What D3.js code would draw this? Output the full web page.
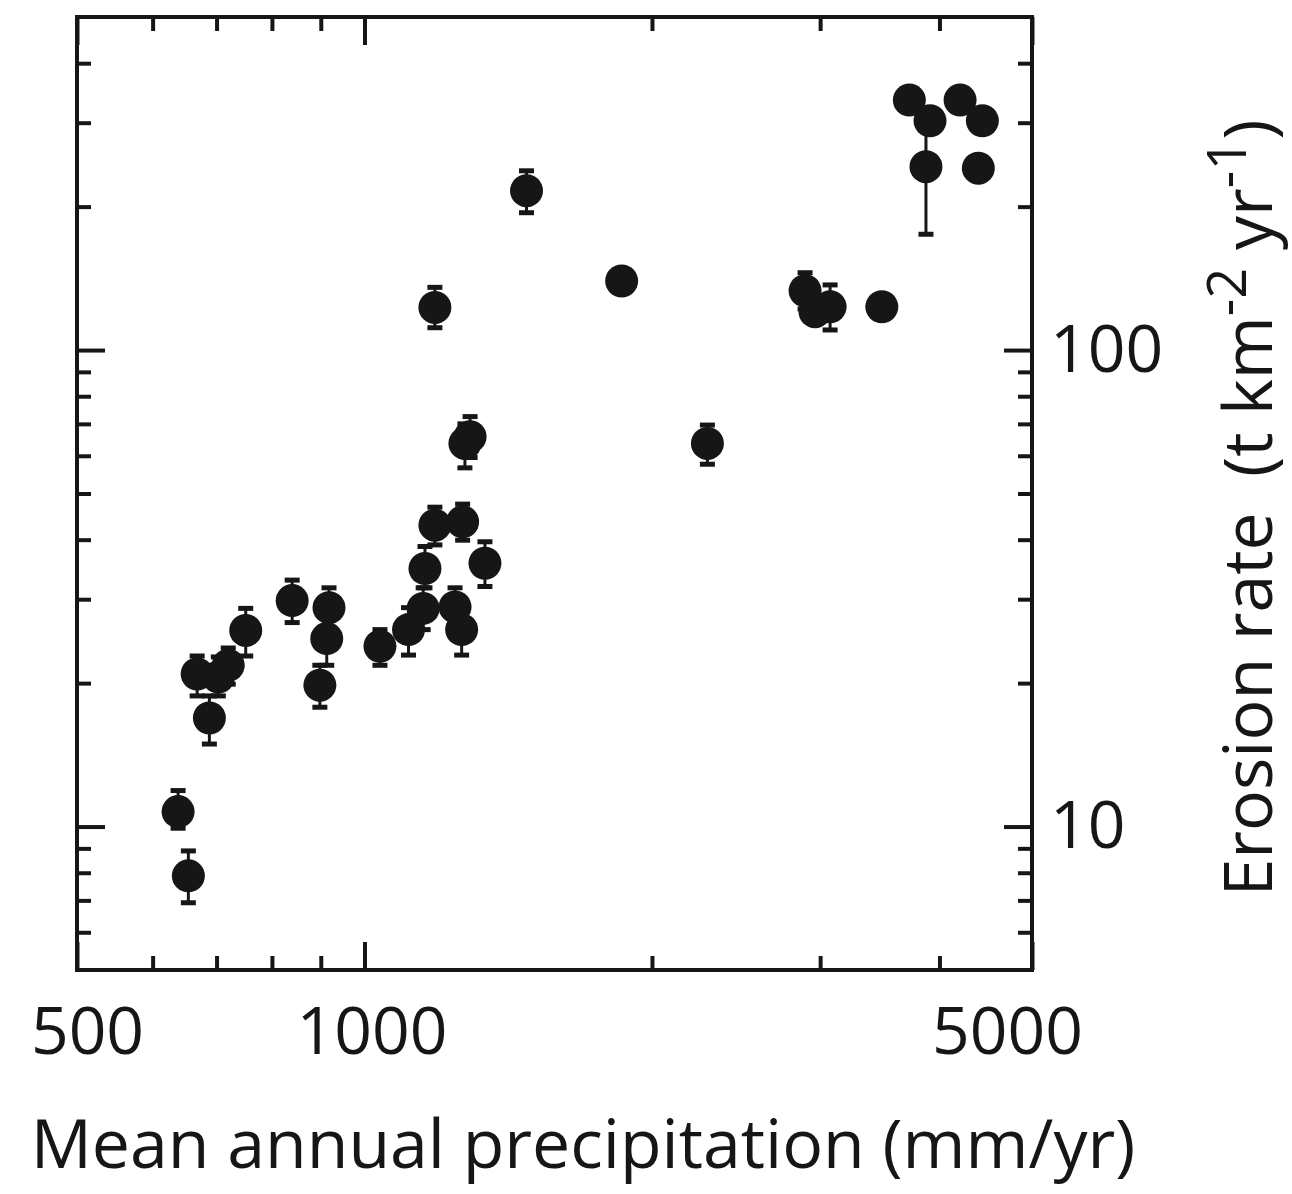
<!DOCTYPE html>
<html>
<head>
<meta charset="utf-8">
<script src="https://cdn.jsdelivr.net/npm/d3@7"></script>
<style>
  html, body { margin: 0; padding: 0; background: #fff; }
  svg { display: block; }
  text { font-family: "Open Sans", "Noto Sans", sans-serif; fill: #161616; }
</style>
</head>
<body>
<svg id="chart" width="1292" height="1194"></svg>
<script>
// ---- data ----
const precipitation = [638, 654, 668, 688, 703, 720, 751, 840, 898, 918, 913, 1038,
  1112, 1152, 1157, 1185, 1244, 1264, 1267, 1290, 1274, 1337, 1185, 1478,
  1859, 2286, 2893, 2963, 3073, 3481, 3720, 3910, 3872, 4204, 4436, 4393];
const erosion = [10.75, 7.88, 20.9, 16.9, 20.6, 21.8, 25.8, 29.8, 19.8, 28.8, 24.8, 23.9,
  25.9, 28.7, 34.8, 42.9, 28.9, 25.9, 43.6, 65.8, 63.7, 35.7, 122.9, 216,
  139.6, 63.7, 133.2, 120.4, 123.3, 123.3, 334.7, 302.9, 242.6, 334.7, 302.9, 240.8];
const errorLow = [9.92, 6.92, 18.8, 14.9, 18.8, 19.9, 22.8, 26.8, 17.8, 26.1, 21.8, 21.8,
  22.9, 25.9, 31.7, 39.0, 26.1, 22.9, 39.9, 59.5, 56.6, 31.9, 111.4, 194.2,
  null, 57.6, 122, null, 110.2, null, null, null, 175, null, null, null];
const errorHigh = [11.9, 8.89, 22.8, 18.8, 22.7, 23.7, 28.7, 32.9, 21.8, 31.7, 27.5, 25.9,
  28.8, 31.7, 38.7, 46.8, 31.7, 28.8, 47.5, 72.5, 70, 39.6, 135.4, 237.8,
  null, 69.6, 145.3, null, 137, null, null, null, 289.6, null, null, null];

const xMajorTicks = [500, 1000, 5000];
const xMinorTicks = [600, 700, 800, 900, 2000, 3000, 4000];
const xTickLabels = ["500", "1000", "5000"];
const yMajorTicks = [10, 100];
const yMinorTicks = [6, 7, 8, 9, 20, 30, 40, 50, 60, 70, 80, 90, 200, 300, 400];
const yTickLabels = ["10", "100"];
const xDomain = [500, 5000];
const yDomain = [5, 500];
const xTitle = "Mean annual precipitation (mm/yr)";

// ---- layout ----
const ink = "#161616";
const plotL = 77, plotR = 1032, plotT = 17, plotB = 970;
const svg = d3.select("#chart");

const x = d3.scaleLog().domain(xDomain).range([plotL, plotR]);
const y = d3.scaleLog().domain(yDomain).range([plotB, plotT]);

const majorLen = 28, minorLen = 14, tickW = 4;

function styleAxis(g) {
  g.select(".domain").remove();
  g.selectAll(".tick line").attr("stroke", ink).attr("stroke-width", tickW);
  g.selectAll(".tick text").attr("fill", ink);
}

// bottom axis (major with labels)
const xLabelShift = [10, 7, -25];
svg.append("g").attr("transform", `translate(0,${plotB})`)
  .call(d3.axisBottom(x).tickValues(xMajorTicks).tickSize(-majorLen).tickPadding(37)
    .tickFormat((d, i) => xTickLabels[i]))
  .call(styleAxis)
  .call(g => g.selectAll(".tick text")
    .attr("font-size", 66)
    .attr("font-family", '"Open Sans", sans-serif')
    .attr("dx", (d, i) => xLabelShift[i]));
svg.append("g").attr("transform", `translate(0,${plotB})`)
  .call(d3.axisBottom(x).tickValues(xMinorTicks).tickSize(-minorLen).tickFormat(""))
  .call(styleAxis);
// top axis
svg.append("g").attr("transform", `translate(0,${plotT})`)
  .call(d3.axisTop(x).tickValues(xMajorTicks).tickSize(-majorLen).tickFormat(""))
  .call(styleAxis);
svg.append("g").attr("transform", `translate(0,${plotT})`)
  .call(d3.axisTop(x).tickValues(xMinorTicks).tickSize(-minorLen).tickFormat(""))
  .call(styleAxis);
// left axis
svg.append("g").attr("transform", `translate(${plotL},0)`)
  .call(d3.axisLeft(y).tickValues(yMajorTicks).tickSize(-majorLen).tickFormat(""))
  .call(styleAxis);
svg.append("g").attr("transform", `translate(${plotL},0)`)
  .call(d3.axisLeft(y).tickValues(yMinorTicks).tickSize(-minorLen).tickFormat(""))
  .call(styleAxis);
// right axis (labels)
svg.append("g").attr("transform", `translate(${plotR},0)`)
  .call(d3.axisRight(y).tickValues(yMajorTicks).tickSize(-majorLen).tickPadding(18)
    .tickFormat((d, i) => yTickLabels[i]))
  .call(styleAxis)
  .call(g => g.selectAll(".tick text")
    .attr("font-size", 66)
    .attr("font-family", '"Open Sans", sans-serif'));
svg.append("g").attr("transform", `translate(${plotR},0)`)
  .call(d3.axisRight(y).tickValues(yMinorTicks).tickSize(-minorLen).tickFormat(""))
  .call(styleAxis);

// frame
svg.append("rect")
  .attr("x", plotL).attr("y", plotT)
  .attr("width", plotR - plotL).attr("height", plotB - plotT)
  .attr("fill", "none").attr("stroke", ink).attr("stroke-width", 4);

// ---- data marks ----
const pts = precipitation.map((p, i) => ({
  p, e: erosion[i], lo: errorLow[i], hi: errorHigh[i]
}));
const withErr = pts.filter(d => d.lo != null);
const capHalf = 7.5;

const eb = svg.append("g").attr("stroke", ink);
eb.selectAll("line.stem").data(withErr).join("line")
  .attr("class", "stem")
  .attr("x1", d => x(d.p)).attr("x2", d => x(d.p))
  .attr("y1", d => y(d.lo)).attr("y2", d => y(d.hi))
  .attr("stroke-width", 3);
eb.selectAll("line.capLo").data(withErr).join("line")
  .attr("class", "capLo")
  .attr("x1", d => x(d.p) - capHalf).attr("x2", d => x(d.p) + capHalf)
  .attr("y1", d => y(d.lo)).attr("y2", d => y(d.lo))
  .attr("stroke-width", 5);
eb.selectAll("line.capHi").data(withErr).join("line")
  .attr("class", "capHi")
  .attr("x1", d => x(d.p) - capHalf).attr("x2", d => x(d.p) + capHalf)
  .attr("y1", d => y(d.hi)).attr("y2", d => y(d.hi))
  .attr("stroke-width", 5);

svg.append("g").selectAll("circle").data(pts).join("circle")
  .attr("cx", d => x(d.p)).attr("cy", d => y(d.e))
  .attr("r", 16.5).attr("fill", ink);

// ---- titles ----
svg.append("text")
  .attr("x", 583).attr("y", 1168)
  .attr("text-anchor", "middle")
  .attr("font-size", 68)
  .text(xTitle);

const yt = svg.append("text")
  .attr("transform", "translate(1272,508) rotate(-90)")
  .attr("text-anchor", "middle")
  .attr("font-size", 68)
  .style("white-space", "pre");
yt.append("tspan").text("Erosion rate  (t km");
yt.append("tspan").attr("dy", "-0.48em").attr("font-size", "0.8em").text("-2");
yt.append("tspan").attr("dy", "0.384em").text(" yr");
yt.append("tspan").attr("dy", "-0.48em").attr("font-size", "0.8em").text("-1");
yt.append("tspan").attr("dy", "0.384em").text(")");
</script>
</body>
</html>
